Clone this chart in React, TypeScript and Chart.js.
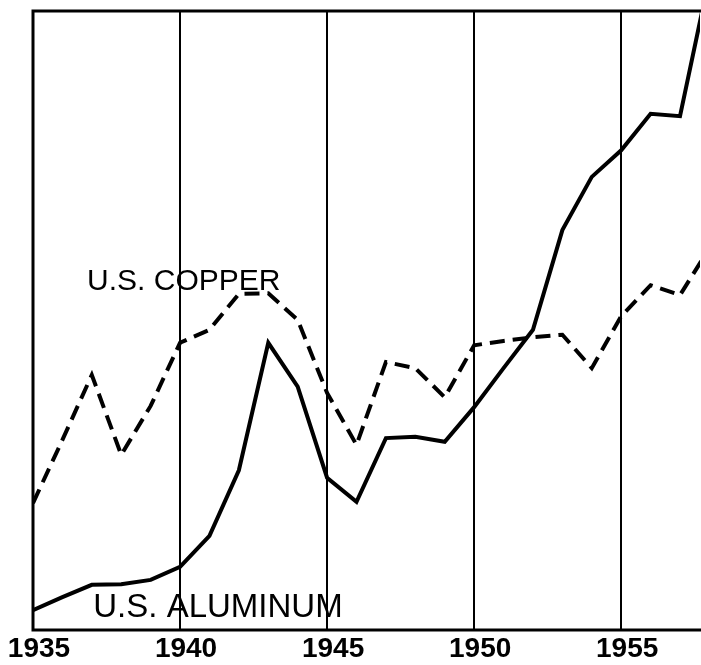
import { useEffect, useRef } from "react";
import { Chart, registerables } from "chart.js";
Chart.register(...registerables);

const YEARS = [1935, 1936, 1937, 1938, 1939, 1940, 1941, 1942, 1943, 1944, 1945, 1946, 1947, 1948, 1949, 1950, 1951, 1952, 1953, 1954, 1955, 1956, 1957, 1958];
const ALUMINUM = [3.2, 5.3, 7.3, 7.4, 8.1, 10.2, 15.2, 25.8, 46.4, 39.3, 24.6, 20.7, 31.0, 31.2, 30.4, 36.0, 42.3, 48.5, 64.6, 73.2, 77.5, 83.4, 83.0, 105.5];
const COPPER = [20.5, 30.7, 41.2, 28.3, 36.2, 46.4, 48.5, 54.3, 54.4, 50.1, 38.3, 29.9, 43.3, 42.3, 37.6, 46.0, 46.7, 47.3, 47.7, 42.3, 50.7, 55.7, 54.1, 61.7];
const TICK_YEARS = [1935, 1940, 1945, 1950, 1955];
const SERIES_NAMES = ["U.S. ALUMINUM", "U.S. COPPER"];

const labelPlugin = {
  id: "seriesLabels",
  afterDatasetsDraw(chart: any) {
    const { ctx, chartArea, scales } = chart;
    const x = scales.x;
    const y = scales.y;
    ctx.save();
    // frame: top, left, bottom
    ctx.strokeStyle = "#000";
    ctx.lineWidth = 3;
    ctx.beginPath();
    ctx.moveTo(chartArea.right + 2, chartArea.top);
    ctx.lineTo(chartArea.left, chartArea.top);
    ctx.lineTo(chartArea.left, chartArea.bottom);
    ctx.lineTo(chartArea.right + 2, chartArea.bottom);
    ctx.stroke();
    ctx.fillStyle = "#000";
    ctx.textBaseline = "alphabetic";
    ctx.textAlign = "left";
    ctx.font = "33px 'Liberation Sans'";
    ctx.fillText(SERIES_NAMES[0], x.getPixelForValue(1937.05), y.getPixelForValue(2.1));
    ctx.font = "30px 'Liberation Sans'";
    ctx.fillText(SERIES_NAMES[1], x.getPixelForValue(1936.84), y.getPixelForValue(54.9));
    ctx.restore();
  },
};

export default function App() {
  const ref = useRef<HTMLCanvasElement>(null);
  useEffect(() => {
    const chart = new Chart(ref.current!, {
      type: "line",
      data: {
        labels: YEARS,
        datasets: [
          {
            label: SERIES_NAMES[0],
            data: YEARS.map((yr, i) => ({ x: yr, y: ALUMINUM[i] })),
            borderColor: "#000",
            borderWidth: 4,
            pointRadius: 0,
            tension: 0,
            fill: false,
          },
          {
            label: SERIES_NAMES[1],
            data: YEARS.map((yr, i) => ({ x: yr, y: COPPER[i] })),
            borderColor: "#000",
            borderWidth: 4,
            borderDash: [15, 8],
            pointRadius: 0,
            tension: 0,
            fill: false,
          },
        ],
      },
      options: {
        animation: false,
        responsive: true,
        maintainAspectRatio: false,
        events: [],
        layout: { padding: { left: 33, top: 11, right: 1, bottom: 0 } },
        plugins: { legend: { display: false }, tooltip: { enabled: false } },
        scales: {
          x: {
            type: "linear",
            min: 1935,
            max: 1957.68,
            afterBuildTicks(scale: any) {
              scale.ticks = TICK_YEARS.map((v) => ({ value: v }));
            },
            afterFit(scale: any) {
              scale.paddingLeft = 0;
              scale.paddingRight = 0;
              scale.height = 35;
            },
            grid: { color: "#000", lineWidth: 2, drawTicks: false },
            border: { display: false },
            ticks: {
              color: "#000",
              font: { family: "'Liberation Sans'", size: 28, weight: "bold" },
              padding: 2,
              labelOffset: 6,
              maxRotation: 0,
              autoSkip: false,
              callback: (v: any) => String(v),
            },
          },
          y: {
            display: false,
            min: 0,
            max: 100,
          },
        },
      },
      plugins: [labelPlugin],
    });
    return () => chart.destroy();
  }, []);
  return (
    <div style={{ position: "fixed", left: 0, top: 0, width: 701, height: 665 }}>
      <canvas ref={ref} />
    </div>
  );
}
